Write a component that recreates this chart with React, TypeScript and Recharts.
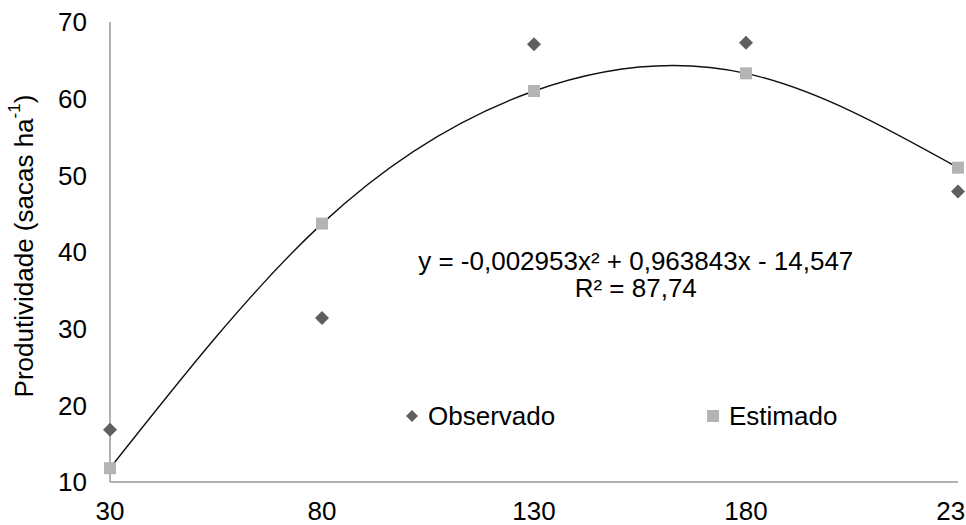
import React from "react";
import {
  LineChart,
  Line,
  XAxis,
  YAxis,
  ReferenceDot,
} from "recharts";

const doses = [30, 80, 130, 180, 230];
const observado = [16.8, 31.4, 67.1, 67.3, 47.9];
const estimado = [11.8, 43.7, 61.0, 63.3, 51.0];
const yTicks = [10, 20, 30, 40, 50, 60, 70];

const equationLines = [
  { text: "y = -0,002953x² + 0,963843x - 14,547", x: 154, y: 38.9 },
  { text: "R² = 87,74", x: 154, y: 35.3 },
];

const legendItems = [
  { label: "Observado", shape: "diamond", color: "#5f5f5f" },
  { label: "Estimado", shape: "square", color: "#b4b4b4" },
];

const data = doses.map((x, i) => ({ x, obs: observado[i], est: estimado[i] }));

const FONT = "'Liberation Sans', Arial, sans-serif";
const FS = 26;

const Diamond = (props: any) => {
  const { cx, cy, index } = props;
  if (cx == null || cy == null) return <g key={`d-${index}`} />;
  return (
    <path
      key={`d-${index}`}
      d={`M${cx},${cy - 7} L${cx + 7},${cy} L${cx},${cy + 7} L${cx - 7},${cy} Z`}
      fill="#5f5f5f"
    />
  );
};

const Square = (props: any) => {
  const { cx, cy, index } = props;
  if (cx == null || cy == null) return <g key={`s-${index}`} />;
  return (
    <rect key={`s-${index}`} x={cx - 6} y={cy - 6} width={12} height={12} fill="#b4b4b4" />
  );
};

const YLabel = (props: any) => {
  const { viewBox } = props;
  const cx = 24;
  const cy = viewBox.y + viewBox.height / 2 - 6;
  return (
    <text
      x={cx}
      y={cy}
      transform={`rotate(-90, ${cx}, ${cy})`}
      textAnchor="middle"
      dominantBaseline="central"
      fontSize={FS}
      fill="#000"
      fontFamily={FONT}
    >
      Produtividade (sacas ha
      <tspan fontSize={17} dy={-10}>-1</tspan>
      <tspan dy={10}>)</tspan>
    </text>
  );
};

const LegendBox: React.FC = () => (
  <div
    style={{
      position: "absolute",
      left: 404,
      top: 403,
      display: "flex",
      fontFamily: FONT,
      fontSize: FS,
      lineHeight: `${FS}px`,
      color: "#000",
    }}
  >
    {legendItems.map((it, i) => (
      <div key={it.label} style={{ display: "flex", alignItems: "center", width: i === 0 ? 301 : undefined }}>
        <svg width={16} height={16} style={{ marginRight: 8 }}>
          {it.shape === "diamond" ? (
            <path d="M8,2 L14,8 L8,14 L2,8 Z" fill={it.color} />
          ) : (
            <rect x={2} y={2} width={12} height={12} fill={it.color} />
          )}
        </svg>
        <span>{it.label}</span>
      </div>
    ))}
  </div>
);

export default function App() {
  return (
    <div style={{ position: "absolute", left: 0, top: 0, width: 966, height: 525, background: "#fff" }}>
      <LineChart
        width={966}
        height={525}
        data={data}
        margin={{ top: 22, right: 8, bottom: 0, left: 0 }}
      >
        <XAxis
          type="number"
          dataKey="x"
          domain={[30, 230]}
          ticks={doses}
          interval={0}
          height={43}
          tickLine={false}
          tickSize={0}
          tickMargin={20}
          axisLine={{ stroke: "#999", strokeWidth: 1.5 }}
          tick={{ fontSize: FS, fill: "#000", fontFamily: FONT }}
        />
        <YAxis
          type="number"
          domain={[10, 70]}
          ticks={yTicks}
          interval={0}
          width={110}
          tickLine={false}
          tickSize={0}
          tickMargin={23}
          axisLine={{ stroke: "#999", strokeWidth: 1.5 }}
          tick={{ fontSize: FS, fill: "#000", fontFamily: FONT }}
          label={{ content: YLabel }}
        />
        <Line
          dataKey="est"
          stroke="none"
          dot={Square}
          activeDot={false}
          isAnimationActive={false}
          legendType="none"
        />
        <Line
          dataKey="obs"
          stroke="none"
          dot={Diamond}
          activeDot={false}
          isAnimationActive={false}
          legendType="none"
        />
        <Line
          type="natural"
          dataKey="est"
          stroke="#111"
          strokeWidth={1.4}
          dot={false}
          activeDot={false}
          isAnimationActive={false}
          legendType="none"
        />
        {equationLines.map((l) => (
          <ReferenceDot
            key={l.text}
            x={l.x}
            y={l.y}
            r={0}
            fill="none"
            stroke="none"
            label={{
              value: l.text,
              position: "center",
              fontSize: FS,
              fill: "#000",
              fontFamily: FONT,
            }}
          />
        ))}
      </LineChart>
      <LegendBox />
    </div>
  );
}
